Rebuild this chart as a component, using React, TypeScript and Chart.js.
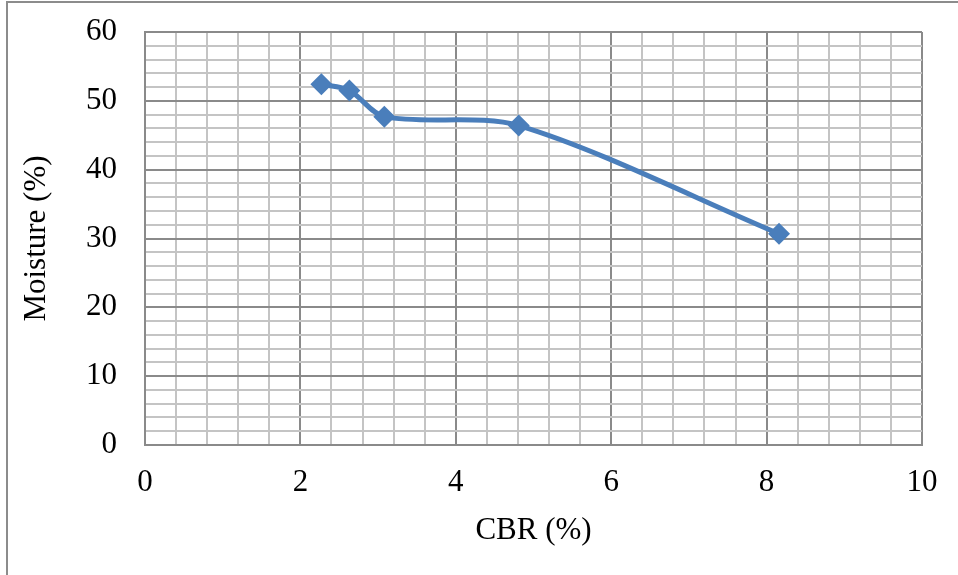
import React, { useEffect, useRef } from "react";
import { Chart, registerables } from "chart.js";

Chart.register(...registerables);

const cbr = [2.27, 2.63, 3.08, 4.81, 8.16];
const moisture = [52.4, 51.5, 47.7, 46.4, 30.7];
const xMajorTicks = [0, 2, 4, 6, 8, 10];
const yMajorTicks = [0, 10, 20, 30, 40, 50, 60];

const FONT = "'Liberation Serif', 'Times New Roman', serif";
const FS = 31;
const MAJOR = "#8a8a8a";
const MINOR = "#c4c4c4";

const isMult = (v: number, m: number) => Math.abs(v / m - Math.round(v / m)) < 1e-6;

export default function App() {
  const ref = useRef<HTMLCanvasElement | null>(null);

  useEffect(() => {
    if (!ref.current) return;
    const chart = new Chart(ref.current, {
      type: "scatter",
      data: {
        datasets: [
          {
            data: cbr.map((x, i) => ({ x, y: moisture[i] })),
            showLine: true,
            borderColor: "#4a7ebb",
            backgroundColor: "#4a7ebb",
            borderWidth: 5,
            tension: 0.3,
            pointStyle: "rectRot",
            pointRadius: 11,
            pointHoverRadius: 11,
            pointBorderWidth: 0,
          },
        ],
      },
      options: {
        animation: false,
        responsive: false,
        maintainAspectRatio: false,
        layout: { padding: { left: 18, right: 36, top: 32, bottom: 0 } },
        plugins: { legend: { display: false }, tooltip: { enabled: false } },
        scales: {
          x: {
            type: "linear",
            min: 0,
            max: 10,
            afterFit: (s: any) => {
              s.height = 130;
              s.paddingLeft = 0;
              s.paddingRight = 0;
            },
            afterBuildTicks: (s: any) => {
              const t = [];
              for (let i = 0; i <= 25; i++) t.push({ value: +(i * 0.4).toFixed(1) });
              s.ticks = t;
            },
            ticks: {
              autoSkip: false,
              maxRotation: 0,
              padding: 19,
              color: "#000",
              font: { family: FONT, size: FS },
              callback: (v: any) => (xMajorTicks.some((m) => Math.abs(m - v) < 1e-6) ? String(Math.round(v)) : ""),
            },
            grid: {
              drawTicks: false,
              lineWidth: 2,
              color: (c: any) => (c.tick && isMult(c.tick.value, 2) ? MAJOR : MINOR),
            },
            border: { display: true, color: MAJOR, width: 2 },
            title: {
              display: true,
              text: "CBR (%)",
              color: "#000",
              font: { family: FONT, size: FS },
              padding: { top: 0, bottom: 26 },
            },
          },
          y: {
            type: "linear",
            min: 0,
            max: 60,
            afterFit: (s: any) => {
              s.width = 127;
              s.paddingTop = 0;
              s.paddingBottom = 0;
            },
            afterBuildTicks: (s: any) => {
              const t = [];
              for (let i = 0; i <= 30; i++) t.push({ value: i * 2 });
              s.ticks = t;
            },
            ticks: {
              autoSkip: false,
              padding: 28,
              color: "#000",
              font: { family: FONT, size: FS },
              callback: (v: any) => (yMajorTicks.includes(v) ? String(v) : ""),
            },
            grid: {
              drawTicks: false,
              lineWidth: 2,
              color: (c: any) => (c.tick && isMult(c.tick.value, 10) ? MAJOR : MINOR),
            },
            border: { display: true, color: MAJOR, width: 2 },
            title: {
              display: true,
              text: "Moisture (%)",
              color: "#000",
              font: { family: FONT, size: FS },
              padding: { top: 0, bottom: 0 },
            },
          },
        },
      },
    } as any);
    return () => chart.destroy();
  }, []);

  return (
    <div style={{ position: "fixed", left: 0, top: 0, width: 958, height: 575, background: "#fff", overflow: "hidden" }}>
      <div
        style={{
          position: "absolute",
          left: 6,
          top: 1,
          width: 1000,
          height: 600,
          borderLeft: "2px solid #8c8c8c",
          borderTop: "2px solid #8c8c8c",
        }}
      />
      <canvas ref={ref} width={958} height={575} style={{ position: "absolute", left: 0, top: 0 }} />
    </div>
  );
}
